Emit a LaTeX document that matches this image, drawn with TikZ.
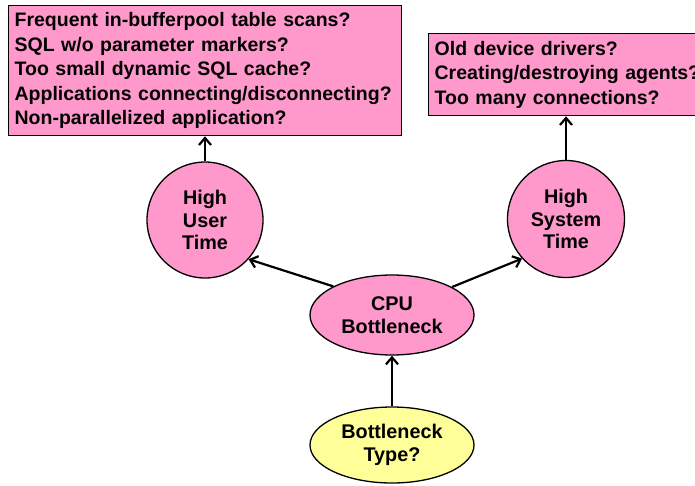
\documentclass[tikz,border=0pt]{standalone}
\usepackage{fontspec}
\setmainfont{Liberation Sans}
\usetikzlibrary{arrows.meta,shapes.geometric}
\hyphenpenalty=10000
\exhyphenpenalty=10000
\definecolor{qpink}{HTML}{FF99CC}
\definecolor{qyellow}{HTML}{FFFF99}
\tikzset{
  qbox/.style={draw=black, line width=1.3pt, fill=qpink, rectangle, anchor=north west,
    align=left, inner xsep=6pt, inner ysep=0pt,
    font=\fontsize{19.5}{24.5}\selectfont\bfseries},
  qcirc/.style={draw=black, line width=1.3pt, fill=qpink, circle, inner sep=0pt,
    align=center, font=\fontsize{19.8}{22.5}\selectfont\bfseries},
  qell/.style={draw=black, line width=1.3pt, ellipse, inner sep=0pt,
    align=center, font=\fontsize{19.8}{22.5}\selectfont\bfseries},
  flow/.style={line width=2.2pt, -{Straight Barb[length=7pt,width=12pt]}},
}
\begin{document}
\begin{tikzpicture}[x=1pt,y=-1pt]
  \useasboundingbox (0,0) rectangle (695,485);
  \clip (0,0) rectangle (695,485);

  % question boxes
  \node[qbox, minimum width=392pt, minimum height=130pt, text width=381pt] (ubox) at (8,5)
    {Frequent in-bufferpool table scans?\\
     SQL w/o parameter markers?\\
     Too small dynamic SQL cache?\\
     Applications connecting/disconnecting?\\
     Non-parallelized application?};
  % this box runs past the right edge of the page
  \node[qbox, minimum height=82pt, text width=300pt] (sbox) at (428,33)
    {Old device drivers?\\
     Creating/destroying agents?\\
     Too many connections?};

  % cause nodes
  \node[qcirc, minimum size=116pt] (user) at (205,220) {High\\User\\Time};
  \node[qcirc, minimum size=117pt] (sys) at (566,219) {High\\System\\Time};
  \node[qell, fill=qpink, minimum width=164pt, minimum height=80pt] (cpu) at (392,315) {CPU\\Bottleneck};
  \node[qell, fill=qyellow, minimum width=164pt, minimum height=76pt] (type) at (392,445) {Bottleneck\\Type?};

  % connectors
  \draw[flow] (type.north) -- (cpu.south);
  \draw[flow] (cpu.154) -- (user.-42);
  \draw[flow] (cpu.25) -- (sys.222);
  \draw[flow] (user.north) -- (user.north |- ubox.south);
  \draw[flow] (sys.north) -- (sys.north |- sbox.south);
\end{tikzpicture}
\end{document}
